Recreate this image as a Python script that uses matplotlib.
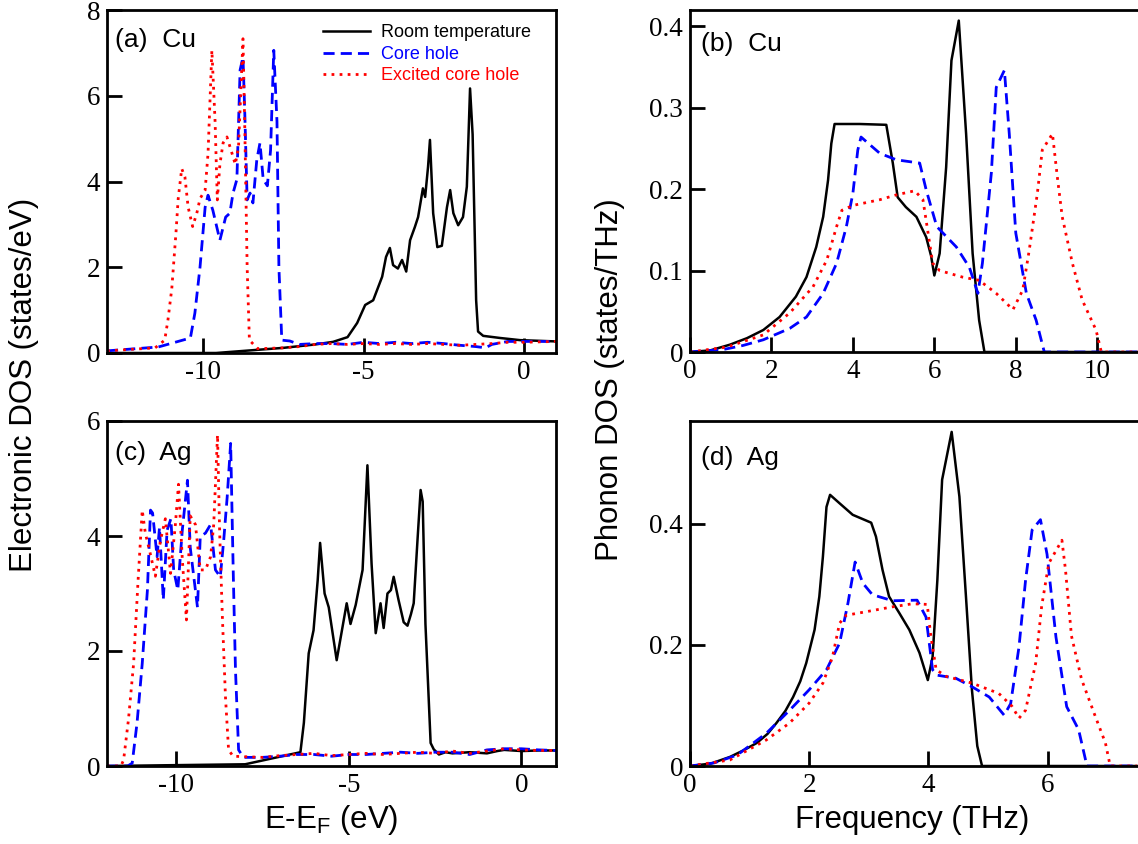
import matplotlib
matplotlib.use('Agg')
import matplotlib.pyplot as plt
from matplotlib.ticker import FuncFormatter

plt.rcParams['font.family'] = ['Liberation Sans', 'DejaVu Sans']
plt.rcParams['axes.unicode_minus'] = False

# ---------------- data ----------------
# (a) Cu electronic DOS
cu_e_rt = [-13, -9.6, -7.5, -6.5, -5.95, -5.5, -5.2, -4.95, -4.7, -4.42, -4.3, -4.18, -4.08, -3.93,
           -3.8, -3.67, -3.55, -3.4, -3.3, -3.15, -3.08, -2.99, -2.93, -2.83, -2.7, -2.56, -2.4,
           -2.3, -2.2, -2.05, -1.9, -1.78, -1.68, -1.6, -1.49, -1.43, -1.27, -0.74, -0.12, 1.0]
cu_d_rt = [0, 0, 0.12, 0.2, 0.26, 0.37, 0.7, 1.12, 1.23, 1.78, 2.24, 2.45, 2.05, 1.97,
           2.17, 1.9, 2.63, 2.94, 3.17, 3.84, 3.64, 4.34, 4.97, 3.26, 2.47, 2.5, 3.4,
           3.8, 3.26, 2.98, 3.17, 3.88, 6.17, 5.1, 1.23, 0.5, 0.4, 0.35, 0.3, 0.27]
cu_e_ch = [-13, -11.4, -10.4, -10.26, -10.1, -9.94, -9.85, -9.7, -9.48, -9.3, -9.17, -9.07, -8.95,
           -8.85, -8.76, -8.7, -8.63, -8.54, -8.45, -8.33, -8.23, -8.13, -8.0, -7.9, -7.8, -7.7,
           -7.64, -7.55, -7.3, -7.0, -6.5, -6.0, -5.5, -5.0, -4.5, -4.0, -3.5, -3.0, -2.5, -2.0,
           -1.5, -1.2, -1.0, -0.5, 0.0, 1.0]
cu_d_ch = [0.05, 0.14, 0.35, 0.93, 2.0, 3.4, 3.68, 3.33, 2.63, 3.17, 3.26, 3.73, 4.05,
           6.6, 6.9, 5.5, 3.57, 3.73, 3.5, 4.5, 4.9, 4.05, 3.9, 4.73, 7.06, 5.4,
           2.0, 0.3, 0.28, 0.2, 0.22, 0.22, 0.2, 0.25, 0.22, 0.25, 0.22, 0.25, 0.22, 0.18,
           0.15, 0.12, 0.2, 0.27, 0.27, 0.27]
cu_e_ex = [-13, -11.5, -11.2, -11.1, -10.98, -10.85, -10.78, -10.67, -10.57, -10.47, -10.33, -10.2,
           -10.1, -9.94, -9.85, -9.73, -9.63, -9.56, -9.48, -9.38, -9.26, -9.1, -9.0, -8.9, -8.76,
           -8.7, -8.63, -8.56, -8.3, -7.5, -7.0, -6.5, -6.0, -5.5, -5.0, -4.5, -4.0, -3.5, -3.0,
           -2.5, -2.0, -1.5, -1.0, -0.5, 0.0, 1.0]
cu_d_ex = [0.05, 0.12, 0.3, 0.77, 1.5, 2.8, 3.6, 4.3, 4.1, 3.4, 2.95, 3.26,
           3.6, 3.8, 4.65, 7.06, 5.4, 3.57, 4.4, 4.9, 5.04, 4.65, 4.4, 4.8, 7.33,
           5.1, 2.0, 0.3, 0.1, 0.12, 0.15, 0.2, 0.22, 0.2, 0.22, 0.2, 0.22, 0.2, 0.22,
           0.2, 0.18, 0.2, 0.22, 0.25, 0.25, 0.27]

# (b) Cu phonon DOS
cu_f_rt = [0, 0.5, 0.98, 1.4, 1.8, 2.2, 2.6, 2.86, 3.1, 3.27, 3.39, 3.47, 3.55, 4.17, 4.82, 4.98,
           5.1, 5.3, 5.56, 5.8, 5.92, 6.0, 6.13, 6.29, 6.42, 6.6, 6.78, 6.94, 7.1, 7.23, 11]
cu_p_rt = [0, 0.002, 0.009, 0.017, 0.027, 0.043, 0.068, 0.092, 0.129, 0.166, 0.211, 0.256, 0.28,
           0.28, 0.279, 0.232, 0.19, 0.178, 0.166, 0.141, 0.118, 0.094, 0.121, 0.227, 0.358,
           0.407, 0.268, 0.121, 0.039, 0, 0]
cu_f_ch = [0, 0.81, 1.3, 1.8, 2.45, 2.86, 3.27, 3.6, 3.84, 4.0, 4.12, 4.2, 4.66, 5.07, 5.64, 5.8,
           6.06, 6.54, 6.86, 7.07, 7.18, 7.4, 7.52, 7.72, 7.84, 8.0, 8.26, 8.5, 8.7, 11]
cu_p_ch = [0, 0.003, 0.008, 0.015, 0.029, 0.043, 0.072, 0.109, 0.154, 0.195, 0.248, 0.264, 0.244,
           0.236, 0.232, 0.199, 0.154, 0.129, 0.104, 0.072, 0.109, 0.22, 0.325, 0.346, 0.268,
           0.146, 0.072, 0.039, 0, 0]
cu_f_ex = [0, 0.9, 1.8, 2.45, 3.02, 3.36, 3.6, 3.73, 4.0, 4.66, 5.07, 5.52, 5.72, 5.96, 6.13, 6.69,
           7.1, 7.52, 7.93, 8.17, 8.33, 8.53, 8.65, 8.9, 9.02, 9.14, 9.39, 9.63, 9.97, 10.1, 11]
cu_p_ex = [0, 0.006, 0.021, 0.048, 0.08, 0.113, 0.154, 0.174, 0.18, 0.187, 0.193, 0.198, 0.187,
           0.109, 0.1, 0.092, 0.088, 0.072, 0.052, 0.076, 0.125, 0.195, 0.248, 0.268, 0.215,
           0.166, 0.109, 0.064, 0.027, 0, 0]

# (c) Ag electronic DOS
ag_e_rt = [-12, -8.0, -6.4, -6.3, -6.16, -6.02, -5.9, -5.83, -5.7, -5.58, -5.35, -5.18, -5.06, -4.95,
           -4.8, -4.6, -4.46, -4.34, -4.22, -4.08, -3.99, -3.88, -3.78, -3.7, -3.56, -3.41, -3.3,
           -3.2, -3.12, -3.01, -2.92, -2.86, -2.78, -2.63, -2.54, -2.39, -2.2, -2.0, -1.5, -1.0,
           -0.7, -0.5, 0.0, 0.5, 1.0]
ag_d_rt = [0, 0.03, 0.24, 0.75, 1.96, 2.36, 3.23, 3.88, 3.0, 2.76, 1.84, 2.42, 2.83, 2.47,
           2.8, 3.41, 5.23, 3.52, 2.31, 2.83, 2.4, 3.0, 3.06, 3.29, 2.89, 2.5, 2.44,
           2.64, 2.83, 3.93, 4.8, 4.6, 2.47, 0.4, 0.29, 0.2, 0.24, 0.22, 0.24, 0.22,
           0.26, 0.28, 0.26, 0.27, 0.27]
ag_e_ch = [-12, -11.4, -11.27, -11.13, -10.98, -10.83, -10.74, -10.68, -10.55, -10.48, -10.37, -10.26,
           -10.15, -10.07, -9.95, -9.82, -9.67, -9.59, -9.38, -9.3, -9.15, -9.0, -8.86, -8.72, -8.62,
           -8.52, -8.42, -8.34, -8.28, -8.19, -8.05, -7.5, -7.0, -6.5, -6.0, -5.5, -5.0, -4.5, -4.0,
           -3.5, -3.0, -2.5, -2.0, -1.5, -1.0, -0.5, 0.0, 0.5, 1.0]
ag_d_ch = [0, 0, 0.05, 0.75, 1.78, 3.06, 4.45, 4.4, 3.64, 4.15, 2.89, 4.1,
           4.3, 3.41, 3.06, 4.1, 4.97, 3.8, 2.76, 3.99, 4.05, 4.2, 3.41, 3.29, 3.93,
           4.68, 5.61, 3.23, 1.67, 0.28, 0.15, 0.15, 0.17, 0.2, 0.2, 0.17, 0.2, 0.2, 0.22,
           0.24, 0.22, 0.24, 0.24, 0.2, 0.28, 0.3, 0.3, 0.28, 0.27]
ag_e_ex = [-12, -11.6, -11.52, -11.38, -11.23, -11.1, -10.98, -10.89, -10.75, -10.6, -10.45, -10.31,
           -10.16, -10.02, -9.93, -9.82, -9.7, -9.59, -9.44, -9.3, -9.15, -9.0, -8.91, -8.8, -8.74,
           -8.66, -8.57, -8.48, -8.35, -7.5, -7.0, -6.5, -6.0, -5.5, -5.0, -4.5, -4.0, -3.5, -3.0,
           -2.5, -2.0, -1.5, -1.0, -0.5, 0.0, 0.5, 1.0]
ag_d_ex = [0, 0, 0.1, 0.8, 1.78, 3.23, 4.45, 4.05, 3.7, 3.3, 3.93, 4.3,
           3.35, 4.2, 4.9, 3.6, 2.54, 4.35, 4.2, 3.41, 3.41, 3.64, 4.2, 5.76, 4.1,
           2.6, 1.2, 0.28, 0.17, 0.15, 0.18, 0.2, 0.22, 0.18, 0.2, 0.22, 0.2, 0.22, 0.24,
           0.22, 0.26, 0.22, 0.26, 0.3, 0.28, 0.27, 0.27]

# (d) Ag phonon DOS
ag_f_rt = [0, 0.35, 0.67, 0.9, 1.12, 1.3, 1.45, 1.6, 1.73, 1.85, 1.95, 2.09, 2.17, 2.23, 2.29, 2.35,
           2.51, 2.73, 3.04, 3.12, 3.23, 3.34, 3.51, 3.68, 3.85, 3.99, 4.07, 4.15, 4.23, 4.39,
           4.52, 4.63, 4.73, 4.82, 4.9, 7.5]
ag_p_rt = [0, 0.004, 0.015, 0.026, 0.038, 0.053, 0.071, 0.091, 0.114, 0.14, 0.17, 0.225, 0.28,
           0.346, 0.428, 0.448, 0.434, 0.415, 0.402, 0.379, 0.324, 0.28, 0.253, 0.225, 0.187,
           0.142, 0.18, 0.307, 0.473, 0.552, 0.445, 0.28, 0.126, 0.033, 0, 0]
ag_f_ch = [0, 0.4, 0.79, 1.28, 1.67, 2.0, 2.29, 2.51, 2.65, 2.77, 2.9, 3.06, 3.4, 3.81, 3.96, 4.07,
           4.15, 4.46, 4.73, 5.02, 5.27, 5.38, 5.52, 5.63, 5.74, 5.88, 5.99, 6.14, 6.32, 6.52,
           6.66, 7.5]
ag_p_ch = [0, 0.005, 0.018, 0.054, 0.092, 0.126, 0.159, 0.203, 0.269, 0.337, 0.302, 0.283, 0.273,
           0.274, 0.246, 0.159, 0.15, 0.145, 0.131, 0.114, 0.084, 0.103, 0.197, 0.307, 0.39,
           0.407, 0.35, 0.213, 0.098, 0.06, 0, 0]
ag_f_ex = [0, 0.67, 1.28, 1.67, 2.0, 2.23, 2.39, 2.51, 2.62, 2.96, 3.4, 3.73, 3.98, 4.04, 4.13,
           4.3, 4.73, 5.18, 5.4, 5.52, 5.63, 5.8, 5.9, 6.02, 6.24, 6.3, 6.4, 6.57, 6.8, 6.97,
           7.05, 7.5]
ag_p_ex = [0, 0.01, 0.043, 0.071, 0.104, 0.137, 0.18, 0.236, 0.249, 0.255, 0.263, 0.268, 0.267,
           0.215, 0.159, 0.148, 0.137, 0.12, 0.099, 0.079, 0.092, 0.17, 0.264, 0.335, 0.373,
           0.324, 0.215, 0.143, 0.082, 0.038, 0, 0]

labels = ['Room temperature', 'Core hole', 'Excited core hole']

# ---------------- figure ----------------
W, H = 1138, 844
fig = plt.figure(figsize=(W / 100, H / 100), dpi=100)

def box(x0, y0, x1, y1):
    # pixel box -> figure fraction
    return [x0 / W, 1 - y1 / H, (x1 - x0) / W, (y1 - y0) / H]

ax_a = fig.add_axes(box(107, 10, 556, 353))
ax_b = fig.add_axes(box(690, 10, 1140, 352))
ax_c = fig.add_axes(box(107, 421, 556, 766))
ax_d = fig.add_axes(box(690, 421, 1140, 766))

fmt = FuncFormatter(lambda v, p: '%g' % v)

def style(ax, xlim, ylim, xt, yt):
    ax.set_xlim(*xlim)
    ax.set_ylim(*ylim)
    ax.set_xticks(xt)
    ax.set_yticks(yt)
    ax.xaxis.set_major_formatter(fmt)
    ax.yaxis.set_major_formatter(fmt)
    for s in ax.spines.values():
        s.set_linewidth(2)
    ax.tick_params(direction='in', length=11, width=2, pad=5, labelsize=19.5)
    for t in ax.get_xticklabels() + ax.get_yticklabels():
        t.set_family('Liberation Serif')

def draw(ax, x1, y1, x2, y2, x3, y3):
    ax.plot(x1, y1, color='black', lw=1.8, label=labels[0])
    ax.plot(x2, y2, color='#0000ff', lw=2.0, ls=(0, (4, 2.2)), label=labels[1])
    ax.plot(x3, y3, color='#ff0000', lw=2.0, ls=(0, (1, 1.9)), label=labels[2])

draw(ax_a, cu_e_rt, cu_d_rt, cu_e_ch, cu_d_ch, cu_e_ex, cu_d_ex)
draw(ax_b, cu_f_rt, cu_p_rt, cu_f_ch, cu_p_ch, cu_f_ex, cu_p_ex)
draw(ax_c, ag_e_rt, ag_d_rt, ag_e_ch, ag_d_ch, ag_e_ex, ag_d_ex)
draw(ax_d, ag_f_rt, ag_p_rt, ag_f_ch, ag_p_ch, ag_f_ex, ag_p_ex)

style(ax_a, (-13, 1), (0, 8), [-10, -5, 0], [0, 2, 4, 6, 8])
style(ax_b, (0, 11.05), (0, 0.42), [0, 2, 4, 6, 8, 10], [0, 0.1, 0.2, 0.3, 0.4])
style(ax_c, (-12, 1), (0, 6), [-10, -5, 0], [0, 2, 4, 6])
style(ax_d, (0, 7.55), (0, 0.57), [0, 2, 4, 6], [0, 0.2, 0.4])

ax_a.text(0.018, 0.913, '(a)  Cu', transform=ax_a.transAxes, fontsize=19, va='center')
ax_b.text(0.025, 0.90, '(b)  Cu', transform=ax_b.transAxes, fontsize=19, va='center')
ax_c.text(0.018, 0.907, '(c)  Ag', transform=ax_c.transAxes, fontsize=19, va='center')
ax_d.text(0.025, 0.893, '(d)  Ag', transform=ax_d.transAxes, fontsize=19, va='center')

leg = ax_a.legend(loc='upper left', bbox_to_anchor=(0.481, 0.958), frameon=False, fontsize=13,
                  handlelength=2.6, handletextpad=0.6, labelspacing=0.25,
                  borderpad=0, borderaxespad=0, labelcolor='linecolor')

fig.text(24 / W, 1 - 385 / H, 'Electronic DOS (states/eV)', rotation=90, ha='center', va='center',
         fontsize=22.5)
fig.text(610 / W, 1 - 380 / H, 'Phonon DOS (states/THz)', rotation=90, ha='center', va='center',
         fontsize=22.5)
fig.text(331 / W, 1 - 828 / H, r'E-E$_{\mathregular{F}}$ (eV)', ha='center', va='baseline',
         fontsize=22.5)
fig.text(912 / W, 1 - 828 / H, 'Frequency (THz)', ha='center', va='baseline', fontsize=22.5)

fig.savefig('out.png', dpi=100)
